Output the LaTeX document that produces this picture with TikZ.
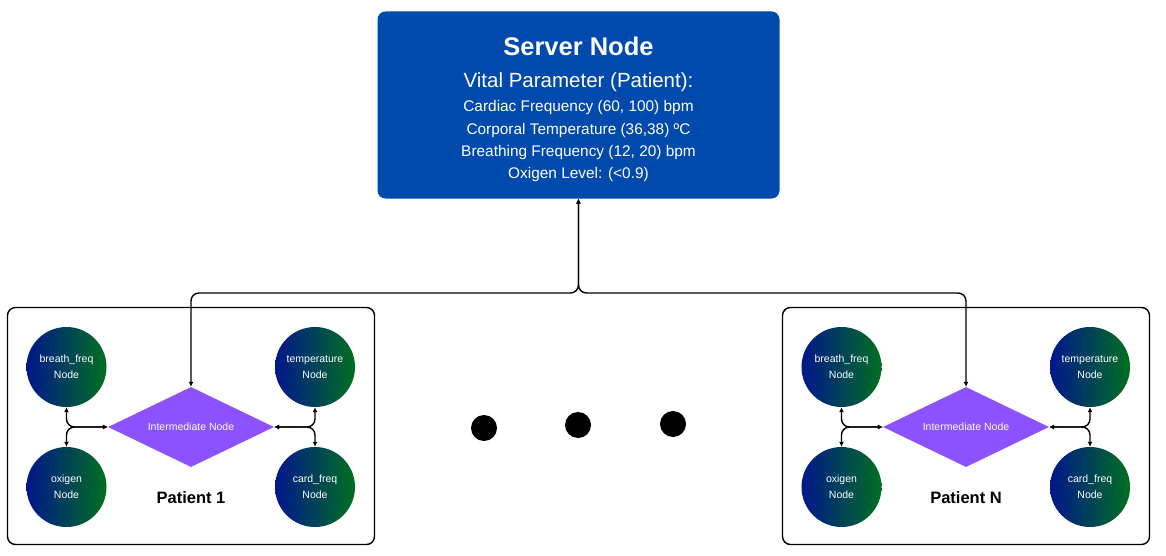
\documentclass[tikz,border=0pt]{standalone}
\usepackage{fontspec}
\setmainfont{Liberation Sans}
\usepackage{tikz}
\usetikzlibrary{shapes.geometric,arrows.meta}

\definecolor{serverblue}{RGB}{0,74,173}
\definecolor{hubviolet}{RGB}{140,82,255}
\definecolor{sensorblue}{RGB}{0,22,140}
\definecolor{sensorgreen}{RGB}{0,112,32}

\begin{document}
\begin{tikzpicture}[
x=1pt, y=-1pt,
server/.style={rectangle, rounded corners=8pt, fill=serverblue, text=white, align=center,
  minimum width=402pt, minimum height=187pt, font=\fontsize{15.4}{22.3}\selectfont},
sensor/.style={circle, minimum size=80pt, inner sep=0pt, left color=sensorblue, right color=sensorgreen,
  text=white, align=center, font=\fontsize{10.5}{16}\selectfont},
hub/.style={diamond, aspect=2, minimum width=166pt, minimum height=80pt, inner sep=0pt,
  fill=hubviolet, text=white, font=\fontsize{10.5}{12}\selectfont},
patient/.style={rectangle, rounded corners=8pt, draw=black, line width=1.4pt,
  minimum width=367pt, minimum height=237pt},
tag/.style={font=\fontsize{16.5}{20}\selectfont\bfseries},
dot/.style={circle, fill=black, minimum size=26pt, inner sep=0pt},
link/.style={line width=1.4pt, rounded corners=8pt, {Latex[length=5pt,width=5pt]}-{Latex[length=5pt,width=5pt]}}
]
\fill[white] (0,0) rectangle (1166,556);
\useasboundingbox (0,0) rectangle (1166,556);

\node[server] (server) at (578.5,105) {\rule{0pt}{27pt}{\fontsize{25.5}{30}\selectfont\bfseries Server Node}\\[10pt]
  {\fontsize{20.5}{24}\selectfont Vital Parameter (Patient):}\\[2pt]
  Cardiac Frequency (60, 100) bpm\\
  Corporal Temperature (36,38) ºC\\
  Breathing Frequency (12, 20) bpm\\
  Oxigen Level: (<0.9)};
\coordinate (fork) at (578.5,293);

\foreach \cx/\id/\name in {191/a/1, 966/b/N} {
  \node[patient] (box\id) at (\cx,426) {};
  \node[hub] (mid\id) at (\cx,427) {Intermediate Node};
  \node[sensor] (breath\id) at (\cx-124.5,367) {breath\_freq\\Node};
  \node[sensor] (oxi\id) at (\cx-124.5,487) {oxigen\\Node};
  \node[sensor] (temp\id) at (\cx+124,367) {temperature\\Node};
  \node[sensor] (card\id) at (\cx+124,487) {card\_freq\\Node};
  \node[tag] (name\id) at (\cx,498) {Patient \name};
  \draw[link] (breath\id.south) |- (mid\id.west);
  \draw[link] (oxi\id.north) |- (mid\id.west);
  \draw[link] (temp\id.south) |- (mid\id.east);
  \draw[link] (card\id.north) |- (mid\id.east);
  \draw[link] (mid\id.north) |- (fork) -- (server.south);
}

\node[dot] (dot1) at (484,428) {};
\node[dot] (dot2) at (578,425) {};
\node[dot] (dot3) at (673,424) {};
\end{tikzpicture}
\end{document}
